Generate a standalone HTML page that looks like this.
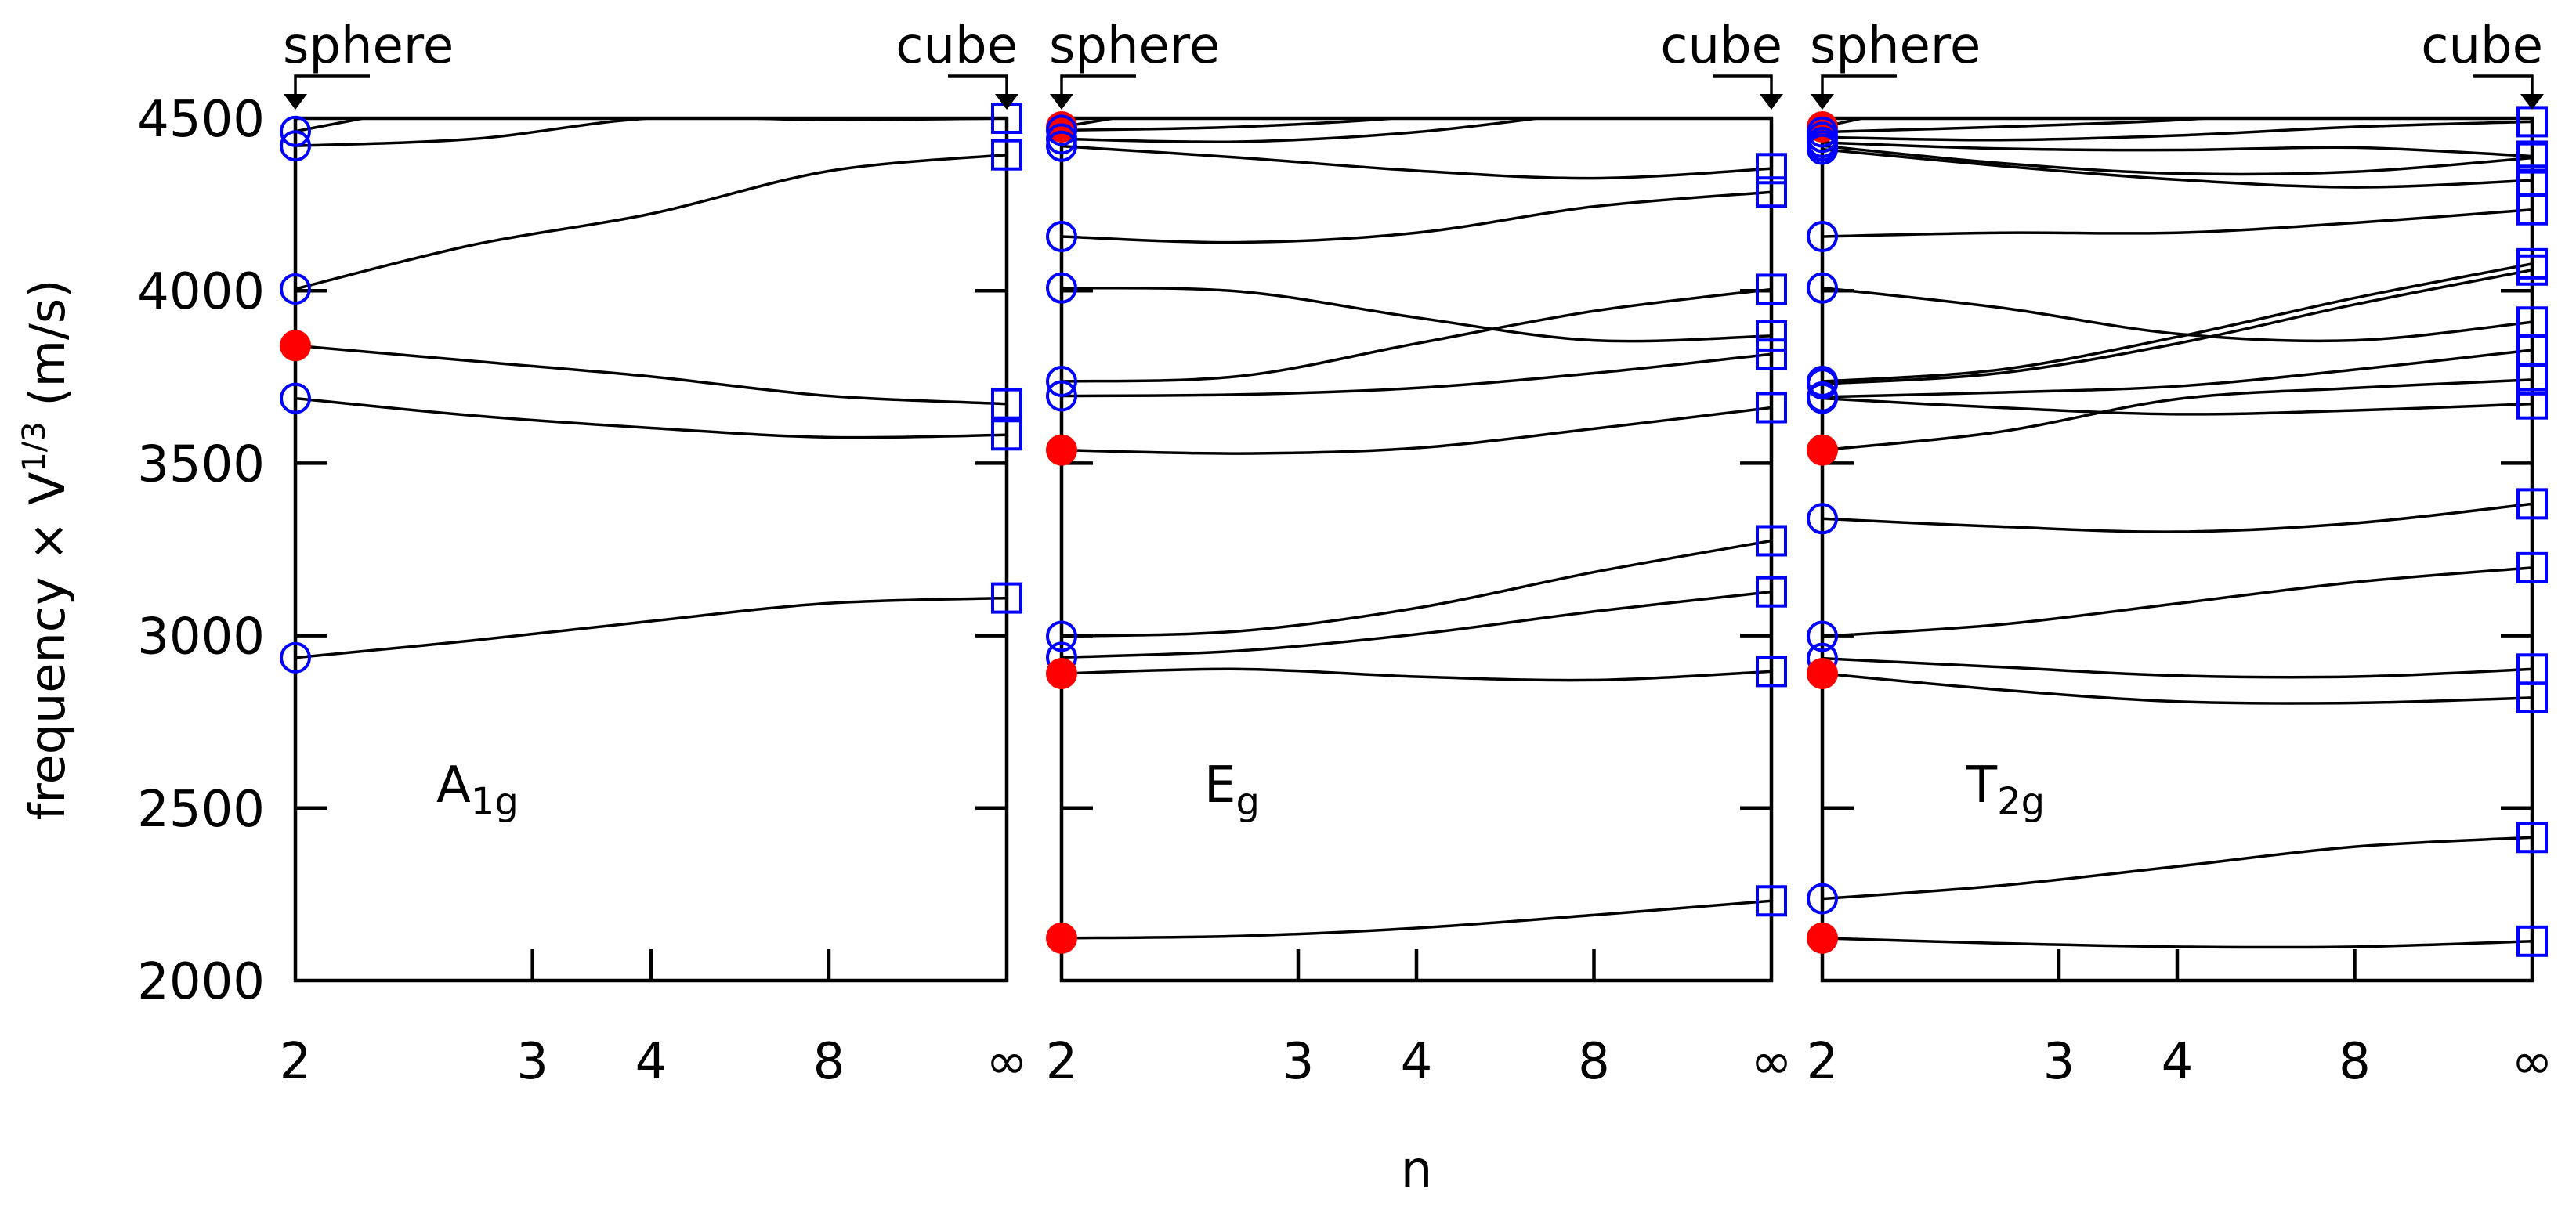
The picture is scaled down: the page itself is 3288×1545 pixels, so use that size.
<!DOCTYPE html>
<html><head><meta charset="utf-8"><style>
html,body{margin:0;padding:0;background:#fff;}
svg{display:block;font-family:"DejaVu Sans","Liberation Sans",sans-serif;}
</style></head><body>
<svg id="chart" width="3288" height="1545" viewBox="0 0 3288 1545" xmlns="http://www.w3.org/2000/svg">
<defs>
<clipPath id="c0"><rect x="377" y="151" width="908" height="1101"/></clipPath>
<clipPath id="c1"><rect x="1355" y="151" width="906" height="1101"/></clipPath>
<clipPath id="c2"><rect x="2326" y="151" width="906" height="1101"/></clipPath>
</defs>
<g id="root"></g>
<text transform="translate(82,702) rotate(-90)" text-anchor="middle" font-size="62">frequency × V<tspan font-size="40" dy="-25">1/3</tspan><tspan dy="25"> (m/s)</tspan></text>
<text x="1808" y="1515" text-anchor="middle" font-size="64">n</text>
</svg>
<script>
const nTicks = [2, 3, 4, 8, Infinity];
const nTickLabels = ['2', '3', '4', '8', '∞'];
const yTicks = [2000, 2500, 3000, 3500, 4000, 4500];
const sampleN = [2, 8/3, 4, 8, Infinity];
const panelNames = ['A', 'E', 'T'];
const panelTitles = [['A', '1g'], ['E', 'g'], ['T', '2g']];
const sphereFilledA = [false, false, false, true, false, false];
const seriesA = [
 [4462, 4560, 4650, 4700, 4750],
 [4420, 4440, 4500, 4495, 4500],
 [4005, 4133, 4223, 4347, 4394],
 [3841, 3796, 3751, 3695, 3672],
 [3688, 3638, 3602, 3575, 3582],
 [2936, 2986, 3042, 3094, 3109]
];
const sphereFilledE = [true, false, false, false, false, false, false, false, true, false, false, true, true];
const seriesE = [
 [4475, 4560, 4650, 4700, 4750],
 [4465, 4475, 4505, 4560, 4600],
 [4440, 4432, 4460, 4520, 4580],
 [4419, 4386, 4348, 4326, 4354],
 [4157, 4140, 4168, 4244, 4286],
 [4008, 3998, 3922, 3856, 3869],
 [3737, 3752, 3847, 3941, 4004],
 [3695, 3699, 3718, 3761, 3816],
 [3538, 3528, 3544, 3600, 3661],
 [2998, 3013, 3080, 3184, 3275],
 [2937, 2956, 3004, 3070, 3127],
 [2890, 2903, 2881, 2871, 2896],
 [2123, 2129, 2152, 2190, 2231]
];
const sphereFilledT = [true, false, false, false, false, false, false, false, false, false, false, false, true, false, false, false, true, false, true];
const seriesT = [
 [4475, 4580, 4650, 4700, 4750],
 [4460, 4475, 4495, 4530, 4560],
 [4445, 4437, 4450, 4475, 4490],
 [4430, 4412, 4408, 4415, 4390],
 [4420, 4370, 4340, 4345, 4385],
 [4410, 4362, 4322, 4300, 4320],
 [4157, 4168, 4168, 4197, 4235],
 [4008, 3951, 3875, 3856, 3909],
 [3737, 3771, 3866, 3979, 4078],
 [3730, 3761, 3847, 3960, 4060],
 [3692, 3705, 3723, 3771, 3828],
 [3688, 3661, 3642, 3653, 3672],
 [3538, 3591, 3686, 3718, 3742],
 [3339, 3316, 3301, 3326, 3382],
 [2998, 3032, 3093, 3155, 3197],
 [2934, 2909, 2884, 2881, 2903],
 [2890, 2843, 2809, 2805, 2820],
 [2237, 2275, 2331, 2388, 2415],
 [2123, 2108, 2098, 2098, 2114]
];
const allSeries = [seriesA, seriesE, seriesT];
const allFilled = [sphereFilledA, sphereFilledE, sphereFilledT];

const NS = 'http://www.w3.org/2000/svg';
const root = document.getElementById('root');
const panelsX = [[377, 1285], [1355, 2261], [2326, 3232]];
const Y0 = 1252, Y1 = 151;
function yScale(v) { return Y0 - (v - 2000) / 2500 * (Y0 - Y1); }
function tOf(n) { return isFinite(n) ? 1 - 2 / n : 1; }
function mk(tag, attrs, parent) {
  const e = document.createElementNS(NS, tag);
  for (const k in attrs) e.setAttribute(k, attrs[k]);
  (parent || root).appendChild(e);
  return e;
}
function catmull(pts) {
  let d = 'M' + pts[0][0] + ',' + pts[0][1];
  for (let i = 0; i < pts.length - 1; i++) {
    const p0 = pts[Math.max(0, i - 1)], p1 = pts[i], p2 = pts[i + 1], p3 = pts[Math.min(pts.length - 1, i + 2)];
    const c1 = [p1[0] + (p2[0] - p0[0]) / 6, p1[1] + (p2[1] - p0[1]) / 6];
    const c2 = [p2[0] - (p3[0] - p1[0]) / 6, p2[1] - (p3[1] - p1[1]) / 6];
    d += ' C' + c1.join(',') + ' ' + c2.join(',') + ' ' + p2.join(',');
  }
  return d;
}
panelsX.forEach(function (px, p) {
  const xl = px[0], xr = px[1];
  const xScale = function (n) { return xl + tOf(n) * (xr - xl); };
  const g = mk('g', {});
  
  
  yTicks.forEach(function (v, i) {
    if (i === 0 || i === yTicks.length - 1) return;
    const y = yScale(v);
    const tl = mk('line', { x1: xl, x2: xl + 40, y1: y, y2: y, stroke: '#000', 'stroke-width': 4.5 }, g);
    
    
    const tr = mk('line', { x1: xr - 40, x2: xr, y1: y, y2: y, stroke: '#000', 'stroke-width': 4.5 }, g);
    
    
  });
  if (p === 0) {
    yTicks.forEach(function (v) {
      const t = mk('text', { x: 338, y: yScale(v) + 23, 'text-anchor': 'end', 'font-size': 64 }, g);
      
      
      t.textContent = String(v);
    });
  }
  nTicks.forEach(function (n, i) {
    const x = xScale(n);
    if (i > 0 && i < nTicks.length - 1) {
      const tk = mk('line', { x1: x, x2: x, y1: Y0, y2: Y0 - 40, stroke: '#000', 'stroke-width': 4.5 }, g);
      
      
    }
    const t = mk('text', { x: x, y: 1377, 'text-anchor': 'middle', 'font-size': 64 }, g);
    
    
    t.textContent = nTickLabels[i];
  });
  const series = allSeries[p], filled = allFilled[p];
  const cg = mk('g', { 'clip-path': 'url(#c' + p + ')' }, g);
  series.forEach(function (vals, si) {
    const pts = vals.map(function (v, k) { return [xScale(sampleN[k]), yScale(v)]; });
    const path = mk('path', { d: catmull(pts), fill: 'none', stroke: '#000', 'stroke-width': 3.5 }, cg);
    
    
  });
  const fr = mk('rect', { x: xl, y: Y1, width: xr - xl, height: Y0 - Y1, fill: 'none', stroke: '#000', 'stroke-width': 4.5 }, g);
  
  
  series.forEach(function (vals, si) {
    const v0 = vals[0];
    if (v0 <= 4500) {
      let c;
      if (filled[si]) c = mk('circle', { cx: xl, cy: yScale(v0), r: 20, fill: '#f00' }, g);
      else c = mk('circle', { cx: xl, cy: yScale(v0), r: 18, fill: 'none', stroke: '#00f', 'stroke-width': 4 }, g);
      
      
    }
    const v1 = vals[vals.length - 1];
    if (v1 <= 4500) {
      const s = mk('rect', { x: xr - 18, y: yScale(v1) - 18, width: 36, height: 36, fill: 'none', stroke: '#00f', 'stroke-width': 4 }, g);
      
      
    }
  });
  const tt = mk('text', { x: xl + (p === 0 ? 180 : p === 1 ? 182 : 184), y: 1024, 'font-size': 64 }, g);
  
  
  tt.textContent = panelTitles[p][0];
  const sub = mk('tspan', { 'font-size': 48, dy: 16 }, tt);
  sub.textContent = panelTitles[p][1];
  const sp = mk('text', { x: xl - 16, y: 80, 'font-size': 64 }, g);
  
  
  sp.textContent = 'sphere';
  const cb = mk('text', { x: xr + 14, y: 80, 'font-size': 64, 'text-anchor': 'end' }, g);
  
  
  cb.textContent = 'cube';
  const a1 = mk('path', { d: 'M' + (xl + 95) + ',97 H' + xl + ' V125', fill: 'none', stroke: '#000', 'stroke-width': 3.5 }, g);
  
  
  const h1 = mk('path', { d: 'M' + (xl - 15) + ',120 H' + (xl + 15) + ' L' + xl + ',140 Z', fill: '#000' }, g);
  
  
  const a2 = mk('path', { d: 'M' + (xr - 75) + ',97 H' + xr + ' V125', fill: 'none', stroke: '#000', 'stroke-width': 3.5 }, g);
  
  
  const h2 = mk('path', { d: 'M' + (xr - 15) + ',120 H' + (xr + 15) + ' L' + xr + ',140 Z', fill: '#000' }, g);
  
  
});
</script>
</body></html>
